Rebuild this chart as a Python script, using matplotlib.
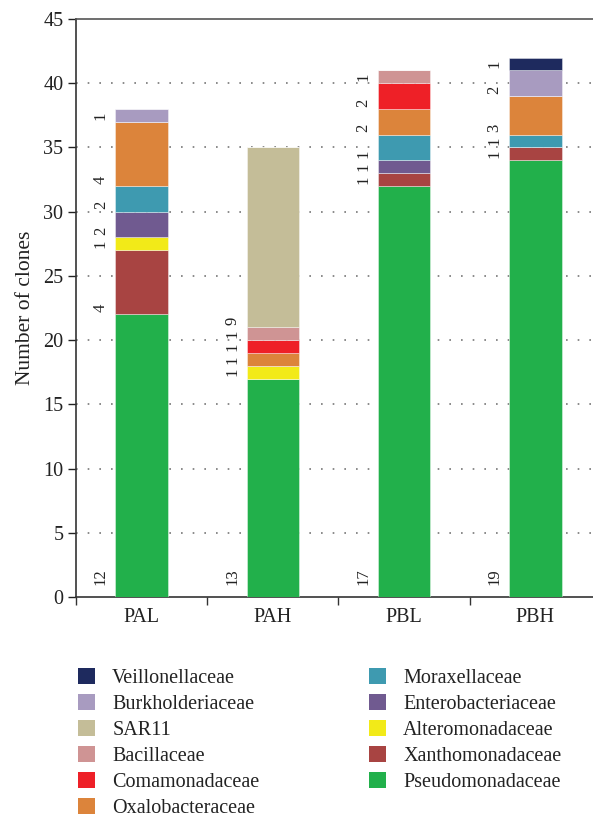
import matplotlib
matplotlib.use("Agg")
import matplotlib.pyplot as plt
from matplotlib.patches import Patch
import numpy as np

plt.rcParams['font.family'] = ['Liberation Serif', 'DejaVu Serif']

samples = ["PAL", "PAH", "PBL", "PBH"]
families = ["Pseudomonadaceae", "Xanthomonadaceae", "Alteromonadaceae",
            "Enterobacteriaceae", "Moraxellaceae", "Oxalobacteraceae",
            "Comamonadaceae", "Bacillaceae", "SAR11", "Burkholderiaceae",
            "Veillonellaceae"]
colors = ["#22b04b", "#a84442", "#f2ea18", "#705a90", "#3e9ab0", "#dc843b",
          "#ee2027", "#cf9494", "#c4bd98", "#a89bc0", "#1e2a5e"]

# number of clones per family (one value per sample)
Pseudomonadaceae = [22, 17, 32, 34]
Xanthomonadaceae = [5, 0, 1, 1]
Alteromonadaceae = [1, 1, 0, 0]
Enterobacteriaceae = [2, 0, 1, 0]
Moraxellaceae = [2, 0, 2, 1]
Oxalobacteraceae = [5, 1, 2, 3]
Comamonadaceae = [0, 1, 2, 0]
Bacillaceae = [0, 1, 1, 0]
SAR11 = [0, 14, 0, 0]
Burkholderiaceae = [1, 0, 0, 2]
Veillonellaceae = [0, 0, 0, 1]

# number labels written beside each segment
lab_Pseudomonadaceae = ["12", "13", "17", "19"]
lab_Xanthomonadaceae = ["4", "", "1", "1"]
lab_Alteromonadaceae = ["1", "1", "", ""]
lab_Enterobacteriaceae = ["2", "", "1", ""]
lab_Moraxellaceae = ["2", "", "1", "1"]
lab_Oxalobacteraceae = ["4", "1", "2", "3"]
lab_Comamonadaceae = ["", "1", "2", ""]
lab_Bacillaceae = ["", "1", "1", ""]
lab_SAR11 = ["", "9", "", ""]
lab_Burkholderiaceae = ["1", "", "", "2"]
lab_Veillonellaceae = ["", "", "", "1"]

values = [Pseudomonadaceae, Xanthomonadaceae, Alteromonadaceae, Enterobacteriaceae,
          Moraxellaceae, Oxalobacteraceae, Comamonadaceae, Bacillaceae, SAR11,
          Burkholderiaceae, Veillonellaceae]
labels = [lab_Pseudomonadaceae, lab_Xanthomonadaceae, lab_Alteromonadaceae,
          lab_Enterobacteriaceae, lab_Moraxellaceae, lab_Oxalobacteraceae,
          lab_Comamonadaceae, lab_Bacillaceae, lab_SAR11, lab_Burkholderiaceae,
          lab_Veillonellaceae]

fig = plt.figure(figsize=(5.93, 8.19), dpi=100)
ax = fig.add_axes([76/593, (819-597)/819, 1 - 76/593, (597-19)/819])

x = np.arange(len(samples))
bottom = np.zeros(len(samples))
handles = {}
for fam, vals, labs, col in zip(families, values, labels, colors):
    vals = np.array(vals, dtype=float)
    ax.bar(x, vals, width=0.4, bottom=bottom, color=col,
           edgecolor=(1, 1, 1, 0.45), linewidth=0.6, zorder=3)
    for i in range(len(samples)):
        if labs[i]:
            if fam == "Pseudomonadaceae":
                yy = 1.6
            else:
                yy = bottom[i] + 0.5
            ax.text(x[i] - 0.31, yy, labs[i], rotation=90, ha='center',
                    va='center', fontsize=12, color='#222222')
    handles[fam] = Patch(facecolor=col, edgecolor='none')
    bottom += vals

ax.set_xlim(-0.5, 3.44)
ax.set_ylim(0, 45)
ax.set_yticks(np.arange(0, 46, 5))
ax.set_xticks(x)
ax.set_xticklabels(samples)
ax.set_xticks([-0.5, 0.5, 1.5, 2.5], minor=True)
ax.tick_params(axis='x', which='major', length=0, pad=8, labelsize=14.5, colors='#222222')
ax.tick_params(axis='x', which='minor', length=6, width=1.0, direction='out', color='#333333')
ax.tick_params(axis='y', which='major', length=6, width=1.0, direction='out',
               labelsize=14.5, colors='#222222', pad=3)
for yv in range(5, 45, 5):
    ax.axhline(yv, color='#777777', linestyle=(0, (1, 6)), linewidth=1.2, zorder=1)
for s in ['left', 'bottom', 'top']:
    ax.spines[s].set_color('#333333')
    ax.spines[s].set_linewidth(1.2)
ax.spines['top'].set_color('#555555')
ax.spines['right'].set_visible(False)
ax.set_ylabel("Number of clones", fontsize=15.5, color='#222222', labelpad=6)

col1 = ["Veillonellaceae", "Burkholderiaceae", "SAR11", "Bacillaceae",
        "Comamonadaceae", "Oxalobacteraceae"]
col2 = ["Moraxellaceae", "Enterobacteriaceae", "Alteromonadaceae",
        "Xanthomonadaceae", "Pseudomonadaceae"]
for names, xpos in [(col1, 78/593), (col2, 369/593)]:
    leg = fig.legend([handles[n] for n in names], names, loc='upper left',
                     bbox_to_anchor=(xpos, (819-668)/819), frameon=False,
                     fontsize=14.5, handlelength=0.85, handleheight=0.85,
                     handletextpad=0.85, labelspacing=0.3, borderaxespad=0,
                     borderpad=0)
    for t in leg.get_texts():
        t.set_color('#222222')

fig.savefig("out.png", dpi=100)
